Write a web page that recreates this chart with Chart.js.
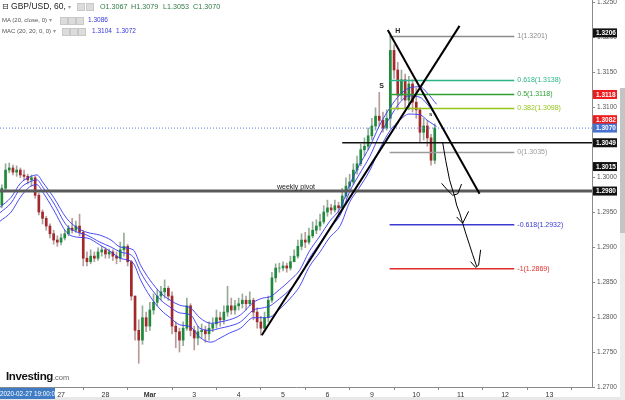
<!DOCTYPE html>
<html>
<head>
<meta charset="utf-8">
<script src="https://cdn.jsdelivr.net/npm/chart.js@4.4.1/dist/chart.umd.min.js"></script>
<style>
  html, body { margin: 0; padding: 0; background: #fff; }
  #wrap { position: relative; width: 625px; height: 400px; overflow: hidden; font-family: "Liberation Sans", Arial, sans-serif; }
  canvas { position: absolute; left: 0; top: 0; }
  .row { position: absolute; white-space: nowrap; }
  .ico { position: absolute; width: 6px; height: 6px; background: #dcdcdc; border: 1px solid #c8c8c8; }
  .val { position: absolute; white-space: nowrap; }
</style>
</head>
<body>
<div id="wrap">
  <canvas id="chart" width="625" height="400"></canvas>

  <div class="row" style="left:2px;top:1px;font-size:8.5px;color:#222;"><span style="font-family:'DejaVu Sans';font-size:8px;">⊟</span> GBP/USD, 60, <span style="color:#999;font-size:6px;">▾</span></div>
  <div class="ico" style="left:77px;top:3px;"></div>
  <div class="ico" style="left:86px;top:3px;"></div>
  <div class="val" style="left:100px;top:2px;font-size:7.2px;color:#2e7a43;">O1.3067</div>
  <div class="val" style="left:131px;top:2px;font-size:7.2px;color:#2e7a43;">H1.3079</div>
  <div class="val" style="left:163px;top:2px;font-size:7.2px;color:#2e7a43;">L1.3053</div>
  <div class="val" style="left:193px;top:2px;font-size:7.2px;color:#2e7a43;">C1.3070</div>

  <div class="row" style="left:2px;top:16px;font-size:6px;color:#555;">MA (20, close, 0) <span style="color:#999;">▾</span></div>
  <div class="ico" style="left:60px;top:17px;"></div>
  <div class="ico" style="left:68px;top:17px;"></div>
  <div class="ico" style="left:76px;top:17px;"></div>
  <div class="val" style="left:88px;top:16px;font-size:6.5px;color:#3535d8;">1.3086</div>

  <div class="row" style="left:2px;top:27px;font-size:6px;color:#555;">MAC (20, 20, 0, 0) <span style="color:#999;">▾</span></div>
  <div class="ico" style="left:62px;top:28px;"></div>
  <div class="ico" style="left:70px;top:28px;"></div>
  <div class="ico" style="left:78px;top:28px;"></div>
  <div class="val" style="left:92px;top:27px;font-size:6.5px;color:#3535d8;">1.3104</div>
  <div class="val" style="left:116px;top:27px;font-size:6.5px;color:#3535d8;">1.3072</div>

  <div class="row" style="left:6px;top:366px;"><span style="font-size:11.5px;font-weight:bold;color:#111;letter-spacing:-0.4px;">Investing</span><span style="font-size:7.5px;color:#666;">.com</span></div>
  <div class="row" style="left:0;top:388px;width:55px;height:11px;background:#3f7cc4;color:#fff;font-size:6.3px;line-height:11px;text-align:center;">2020-02-27 19:00:00</div>
</div>

<script>
// 2-hour candles, hours counted from 27 Feb 00:00 (trading time, weekend removed)
const firstHour = -32;
const barHours = 2;
const firstOpen = 1.2960;

const closes = [
  1.2984,1.3010,1.3013,1.3007,1.3010,1.3003,1.3001,1.2996,1.2999,1.2974,
  1.2950,1.2941,1.2930,1.2919,1.2910,1.2907,1.2913,1.2919,1.2927,1.2924,
  1.2930,1.2921,1.2884,1.2879,1.2887,1.2884,1.2893,1.2896,1.2890,1.2893,
  1.2887,1.2884,1.2896,1.2901,1.2879,1.2830,1.2781,1.2767,1.2799,1.2787,
  1.2810,1.2821,1.2830,1.2836,1.2841,1.2830,1.2787,1.2779,1.2767,1.2784,
  1.2816,1.2781,1.2770,1.2779,1.2781,1.2776,1.2784,1.2790,1.2799,1.2796,
  1.2807,1.2816,1.2810,1.2816,1.2819,1.2824,1.2819,1.2824,1.2807,1.2793,
  1.2784,1.2799,1.2824,1.2856,1.2870,1.2870,1.2873,1.2870,1.2879,1.2887,
  1.2901,1.2910,1.2907,1.2916,1.2924,1.2930,1.2936,1.2950,1.2956,1.2953,
  1.2959,1.2956,1.2973,1.2987,1.2993,1.3010,1.3019,1.3039,1.3044,1.3059,
  1.3073,1.3087,1.3081,1.3070,1.3084,1.3181,1.3153,1.3117,1.3139,1.3110,
  1.3133,1.3107,1.3096,1.3064,1.3073,1.3056,1.3024,1.3070
];
const highs = [
  1.2989,1.3019,1.3020,1.3017,1.3016,1.3013,1.3010,1.3004,1.3003,1.3001,
  1.2977,1.2953,1.2944,1.2933,1.2924,1.2916,1.2919,1.2924,1.2931,1.2941,
  1.2937,1.2947,1.2924,1.2893,1.2896,1.2893,1.2899,1.2901,1.2899,1.2897,
  1.2896,1.2893,1.2907,1.2920,1.2904,1.2881,1.2830,1.2796,1.2816,1.2807,
  1.2821,1.2833,1.2839,1.2844,1.2853,1.2844,1.2836,1.2793,1.2784,1.2793,
  1.2827,1.2819,1.2787,1.2787,1.2790,1.2787,1.2793,1.2799,1.2810,1.2807,
  1.2816,1.2844,1.2827,1.2824,1.2827,1.2833,1.2830,1.2836,1.2827,1.2813,
  1.2801,1.2807,1.2830,1.2864,1.2876,1.2877,1.2879,1.2877,1.2887,1.2896,
  1.2910,1.2919,1.2921,1.2927,1.2936,1.2939,1.2947,1.2959,1.2967,1.2961,
  1.2967,1.2964,1.2984,1.2999,1.3004,1.3019,1.3030,1.3047,1.3056,1.3070,
  1.3084,1.3099,1.3121,1.3093,1.3096,1.3206,1.3189,1.3164,1.3153,1.3147,
  1.3144,1.3139,1.3127,1.3099,1.3084,1.3081,1.3061,1.3076
];
const lows = [
  1.2956,1.2981,1.3006,1.3003,1.3001,1.2999,1.2996,1.2990,1.2987,1.2970,
  1.2946,1.2933,1.2924,1.2913,1.2904,1.2901,1.2903,1.2910,1.2916,1.2920,
  1.2921,1.2916,1.2873,1.2873,1.2876,1.2879,1.2881,1.2887,1.2884,1.2884,
  1.2881,1.2876,1.2879,1.2887,1.2873,1.2824,1.2767,1.2734,1.2761,1.2779,
  1.2781,1.2804,1.2816,1.2824,1.2827,1.2824,1.2776,1.2756,1.2750,1.2759,
  1.2781,1.2773,1.2753,1.2760,1.2770,1.2764,1.2767,1.2779,1.2784,1.2787,
  1.2790,1.2801,1.2804,1.2804,1.2810,1.2813,1.2810,1.2816,1.2796,1.2784,
  1.2774,1.2779,1.2793,1.2821,1.2850,1.2864,1.2866,1.2864,1.2867,1.2879,
  1.2884,1.2896,1.2899,1.2904,1.2913,1.2919,1.2924,1.2933,1.2944,1.2947,
  1.2950,1.2947,1.2953,1.2970,1.2981,1.2990,1.3004,1.3016,1.3030,1.3039,
  1.3053,1.3067,1.3073,1.3064,1.3067,1.3070,1.3141,1.3096,1.3110,1.3099,
  1.3096,1.3093,1.3084,1.3050,1.3053,1.3044,1.3017,1.3019
];

// MA(20) and MA channel (20 highs / 20 lows)
const maHours = [-33,-27,-22,-17,-13,-10,-4,3,9,14,21,27,32,39,43,48,54,59,64,70,75,81,86,91,97,104,109,113,118,124,129,134,140,145,151,156,161,167,172,178,183,188,194,198,203];
const maUpper = [1.2957,1.2971,1.2991,1.3000,1.3003,1.2993,1.2971,1.2941,1.2927,1.2921,1.2917,1.2910,1.2900,1.2896,1.2874,1.2853,1.2834,1.2824,1.2817,1.2813,1.2799,1.2791,1.2793,1.2796,1.2803,1.2821,1.2827,1.2829,1.2839,1.2853,1.2867,1.2893,1.2916,1.2936,1.2956,1.2989,1.3016,1.3044,1.3073,1.3100,1.3117,1.3127,1.3129,1.3120,1.3104];
const maMid   = [1.2949,1.2963,1.2984,1.2993,1.2996,1.2986,1.2963,1.2931,1.2921,1.2917,1.2907,1.2900,1.2893,1.2886,1.2864,1.2843,1.2824,1.2814,1.2806,1.2803,1.2784,1.2781,1.2784,1.2787,1.2793,1.2810,1.2813,1.2816,1.2826,1.2840,1.2857,1.2883,1.2906,1.2926,1.2946,1.2979,1.3003,1.3030,1.3059,1.3086,1.3106,1.3116,1.3114,1.3104,1.3086];
const maLower = [1.2937,1.2950,1.2971,1.2986,1.2989,1.2979,1.2953,1.2921,1.2914,1.2913,1.2903,1.2893,1.2884,1.2877,1.2853,1.2830,1.2810,1.2799,1.2789,1.2786,1.2771,1.2764,1.2770,1.2777,1.2784,1.2799,1.2799,1.2800,1.2811,1.2827,1.2844,1.2871,1.2893,1.2913,1.2931,1.2964,1.2984,1.3010,1.3039,1.3067,1.3081,1.3090,1.3089,1.3081,1.3072];

// fibonacci levels
const fibLevels = ['1','0.618','0.5','0.382','0','-0.618','-1'];
const fibPrices = [1.3201,1.3138,1.3118,1.3098,1.3035,1.2932,1.2869];
const fibColors = ['#8c8c8c','#2ab389','#2e9e35','#95c51a','#9a9a9a','#3b3bd0','#e02a2a'];
const fibFrom = 177.6, fibTo = 245;

// drawn lines
const trendUpHours = [108.5, 215.4];
const trendUpPrices = [1.2774, 1.3216];
const trendDownHours = [176.6, 226.2];
const trendDownPrices = [1.3210, 1.2976];
const pivotPrice = 1.2980;
const supportPrice = 1.3049, supportFrom = 152;
const lastPrice = 1.3070;

// hand-drawn arrow strokes (null = pen lifted)
const sketchHours  = [206.3,207.9,210.0,211.7,212.7,213.8,215.4,217.1,218.7,220.8,222.5,224.6, 224.6, 205.7,209.0,211.7,214.4,216.5, 216.5, 213.8,217.1,220.3, 220.3, 221.4,224.1,225.7,226.8];
const sketchPrices = [1.3049,1.3024,1.2996,1.2981,1.2973,1.2960,1.2949,1.2934,1.2920,1.2903,1.2889,1.2873, null, 1.2991,1.2981,1.2974,1.2976,1.2990, null, 1.2943,1.2934,1.2951, null, 1.2879,1.2871,1.2874,1.2896];

// axes
const xMin = -33, xMax = 287;
const yMin = 1.2700, yMax = 1.3253;
const yTicks = [1.2700,1.2750,1.2800,1.2850,1.2900,1.2950,1.3000,1.3050,1.3100,1.3150,1.3200,1.3250];
const dayHours = [0,24,48,72,96,120,144,168,192,216,240,264];
const dayLabels = ['27','28','Mar','3','4','5','6','9','10','11','12','13'];

// right-axis price badges
const badgeValues = [1.3206,1.3118,1.3082,1.3070,1.3049,1.3015,1.2980];
const badgeColors = ['#111','#ee1c1c','#ee1c1c','#4672d2','#111','#111','#111'];

// chart notes
const notes = [
  { text: 'H', h: 182, p: 1.3208, size: 7, bold: true },
  { text: 'S', h: 173.2, p: 1.3130, size: 7, bold: true },
  { text: 's', h: 199.8, p: 1.3090, size: 6, bold: true },
  { text: 'weekly pivot', h: 127, p: 1.2986, size: 7, bold: false }
];

Chart.defaults.font.family = '"Liberation Sans", Arial, sans-serif';

const hours = closes.map((_, i) => firstHour + i * barHours);
const opens = closes.map((c, i) => i === 0 ? firstOpen : closes[i - 1]);
const up = closes.map((c, i) => c >= opens[i]);

const line = (pts, color, width, order, extra) => Object.assign({
  type: 'line', data: pts, borderColor: color, borderWidth: width,
  pointRadius: 0, fill: false, tension: 0, order: order
}, extra || {});

const datasets = [];

// candles
datasets.push({
  type: 'bar', label: 'wick',
  data: hours.map((h, i) => ({ x: h, y: [lows[i], highs[i]] })),
  backgroundColor: up.map(u => u ? '#94ad9a' : '#b89a9a'),
  barThickness: 1, grouped: false, order: 9
});
datasets.push({
  type: 'bar', label: 'body',
  data: hours.map((h, i) => ({ x: h, y: [opens[i], closes[i]] })),
  backgroundColor: up.map(u => u ? '#1f8a3c' : '#a3282c'),
  barThickness: 2, grouped: false, order: 8
});

// moving averages
[maUpper, maMid, maLower].forEach(arr => {
  datasets.push(line(maHours.map((h, i) => ({ x: h, y: arr[i] })), 'rgba(55,55,245,0.9)', 1, 6, { cubicInterpolationMode: 'monotone' }));
});

// horizontal levels
datasets.push(line([{ x: xMin, y: lastPrice }, { x: xMax, y: lastPrice }], '#5c78dc', 1, 7, { borderDash: [1, 2] }));
datasets.push(line([{ x: xMin, y: pivotPrice }, { x: xMax, y: pivotPrice }], '#5a5a5a', 3, 5));
datasets.push(line([{ x: supportFrom, y: supportPrice }, { x: xMax, y: supportPrice }], '#111', 1.5, 4));

// fibonacci
fibPrices.forEach((p, i) => {
  datasets.push(line([{ x: fibFrom, y: p }, { x: fibTo, y: p }], fibColors[i], 1.5, 3));
});

// trend lines
datasets.push(line(trendUpHours.map((h, i) => ({ x: h, y: trendUpPrices[i] })), '#000', 2, 2));
datasets.push(line(trendDownHours.map((h, i) => ({ x: h, y: trendDownPrices[i] })), '#000', 2, 2));

// sketch strokes
let stroke = [];
sketchHours.forEach((h, i) => {
  if (sketchPrices[i] === null) {
    datasets.push(line(stroke, '#000', 1, 1));
    stroke = [];
  } else {
    stroke.push({ x: h, y: sketchPrices[i] });
  }
});
if (stroke.length) datasets.push(line(stroke, '#000', 1, 1));

const overlay = {
  id: 'overlay',
  afterDatasetsDraw(chart) {
    const { ctx, scales: { x, y } } = chart;
    ctx.save();
    ctx.textBaseline = 'middle';
    ctx.textAlign = 'left';
    ctx.font = '7px "Liberation Sans", Arial, sans-serif';
    fibLevels.forEach((lv, i) => {
      ctx.fillStyle = fibColors[i];
      ctx.fillText(lv + '(' + fibPrices[i].toFixed(4) + ')', x.getPixelForValue(fibTo) + 3, y.getPixelForValue(fibPrices[i]));
    });
    ctx.textAlign = 'center';
    notes.forEach(n => {
      ctx.font = (n.bold ? 'bold ' : '') + n.size + 'px "Liberation Sans", Arial, sans-serif';
      ctx.fillStyle = '#222';
      ctx.fillText(n.text, x.getPixelForValue(n.h), y.getPixelForValue(n.p));
    });
    ctx.restore();
  },
  afterDraw(chart) {
    const { ctx, chartArea, scales: { y } } = chart;
    ctx.save();
    // scroll bars
    ctx.fillStyle = '#ececec';
    ctx.fillRect(620, 88, 5, 312);
    ctx.fillStyle = '#c4c4c4';
    ctx.fillRect(620, 88, 5, 145);
    ctx.fillStyle = '#e8e8e8';
    ctx.fillRect(0, 397, 620, 3);
    // badges
    ctx.font = 'bold 6.5px "Liberation Sans", Arial, sans-serif';
    ctx.textBaseline = 'middle';
    ctx.textAlign = 'left';
    badgeValues.forEach((v, i) => {
      const py = y.getPixelForValue(v);
      ctx.fillStyle = badgeColors[i];
      ctx.fillRect(chartArea.right + 1, py - 4.5, 24, 9);
      ctx.fillStyle = '#fff';
      ctx.fillText(v.toFixed(4), chartArea.right + 4, py + 0.5);
    });
    ctx.restore();
  }
};

new Chart(document.getElementById('chart'), {
  type: 'bar',
  data: { datasets: datasets },
  options: {
    responsive: false,
    animation: false,
    devicePixelRatio: 1,
    layout: { padding: 0 },
    plugins: { legend: { display: false }, tooltip: { enabled: false } },
    scales: {
      x: {
        type: 'linear', position: 'bottom', min: xMin, max: xMax, offset: false,
        grid: { drawOnChartArea: false, tickLength: 3, color: '#888' },
        border: { color: '#8a8a8a' },
        ticks: {
          autoSkip: false, maxRotation: 0, padding: 1, color: '#333',
          font: c => ({ size: 7, weight: c.tick && c.tick.label === 'Mar' ? 'bold' : 'normal' }),
          callback: v => { const k = dayHours.indexOf(v); return k < 0 ? '' : dayLabels[k]; }
        },
        afterBuildTicks: s => { s.ticks = dayHours.map(v => ({ value: v })); },
        afterFit: s => { s.height = 13; s.paddingLeft = 0; s.paddingRight = 0; }
      },
      y: {
        type: 'linear', position: 'right', min: yMin, max: yMax, beginAtZero: false,
        grid: { drawOnChartArea: false, tickLength: 3, color: '#888' },
        border: { color: '#8a8a8a' },
        ticks: { padding: 2, color: '#555', font: { size: 6.5 }, callback: v => v.toFixed(4) },
        afterBuildTicks: s => { s.ticks = yTicks.map(v => ({ value: v })); },
        afterFit: s => { s.width = 33; s.paddingTop = 0; s.paddingBottom = 0; }
      }
    }
  },
  plugins: [overlay]
});
</script>
</body>
</html>
